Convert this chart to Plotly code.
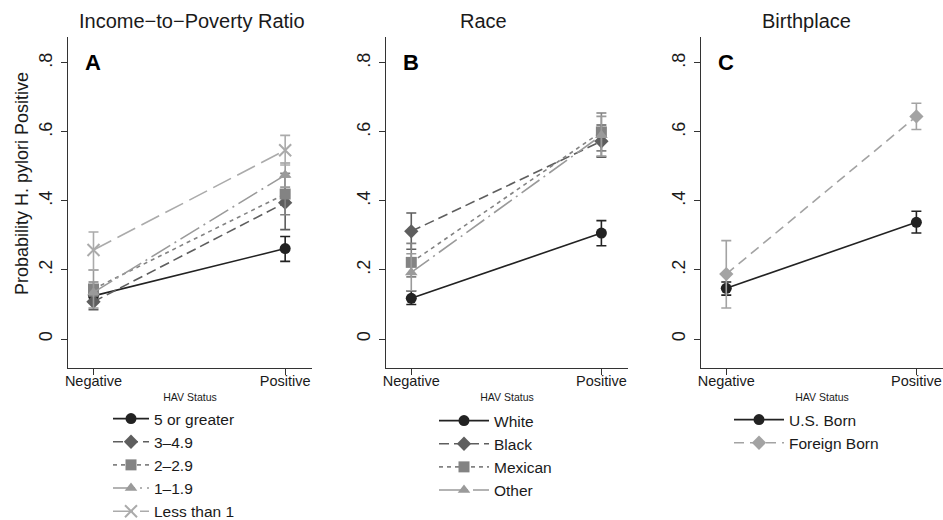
import plotly.graph_objects as go

W, H = 943, 520

x_cats = ["Negative", "Positive"]
x_pos = [0, 1]
y_ticks = [0, 0.2, 0.4, 0.6, 0.8]
y_ticktext = ["0", ".2", ".4", ".6", ".8"]

# Panel A: Income-to-Poverty Ratio
a_names = ["5 or greater", "3\u20134.9", "2\u20132.9", "1\u20131.9", "Less than 1"]
a_vals = [[0.125, 0.262], [0.108, 0.395], [0.145, 0.420], [0.135, 0.475], [0.258, 0.547]]
a_low = [[0.105, 0.225], [0.085, 0.317], [0.125, 0.360], [0.090, 0.440], [0.200, 0.504]]
a_high = [[0.145, 0.297], [0.135, 0.470], [0.165, 0.480], [0.200, 0.510], [0.310, 0.590]]

# Panel B: Race
b_names = ["White", "Black", "Mexican", "Other"]
b_vals = [[0.118, 0.307], [0.312, 0.573], [0.222, 0.600], [0.193, 0.590]]
b_low = [[0.100, 0.270], [0.260, 0.527], [0.180, 0.545], [0.140, 0.530]]
b_high = [[0.139, 0.343], [0.365, 0.620], [0.277, 0.655], [0.247, 0.645]]

# Panel C: Birthplace
c_names = ["U.S. Born", "Foreign Born"]
c_vals = [[0.147, 0.338], [0.188, 0.645]]
c_low = [[0.127, 0.307], [0.090, 0.607]]
c_high = [[0.165, 0.370], [0.285, 0.683]]

titles = ["Income\u2212to\u2212Poverty Ratio", "Race", "Birthplace"]
letters = ["A", "B", "C"]

FONT = "Liberation Sans, Arial, Helvetica, sans-serif"

styles_a = [
    dict(color="#222222", dash="solid", symbol="circle"),
    dict(color="#5e5e5e", dash="10px,5px", symbol="diamond"),
    dict(color="#838383", dash="4px,4px", symbol="square"),
    dict(color="#9a9a9a", dash="22px,5px,2px,5px", symbol="triangle-up"),
    dict(color="#ababab", dash="20px,7px", symbol="x-thin-open"),
]
styles_b = styles_a[:4]
styles_c = [
    dict(color="#222222", dash="solid", symbol="circle"),
    dict(color="#a3a3a3", dash="10px,6px", symbol="diamond"),
]

fig = go.Figure()

def add_panel(names, vals, lows, highs, styles, idx):
    xa = "x" if idx == 1 else f"x{idx}"
    ya = "y" if idx == 1 else f"y{idx}"
    lg = "legend" if idx == 1 else f"legend{idx}"
    for n, v, lo, hi, st in zip(names, vals, lows, highs, styles):
        sym = st["symbol"]
        mk = dict(symbol=sym, size=11, color=st["color"])
        if sym == "x-thin-open":
            mk = dict(symbol=sym, size=12, color=st["color"], line=dict(color=st["color"], width=2))
        fig.add_trace(go.Scatter(
            x=x_pos, y=v, name=n, mode="lines+markers",
            line=dict(color=st["color"], width=1.6, dash=st["dash"]),
            marker=mk,
            error_y=dict(type="data", symmetric=False,
                         array=[h - a for h, a in zip(hi, v)],
                         arrayminus=[a - l for a, l in zip(v, lo)],
                         color=st["color"], thickness=1.6, width=5),
            xaxis=xa, yaxis=ya, legend=lg,
        ))

add_panel(a_names, a_vals, a_low, a_high, styles_a, 1)
add_panel(b_names, b_vals, b_low, b_high, styles_b, 2)
add_panel(c_names, c_vals, c_low, c_high, styles_c, 3)

x_dom_px = [(68, 312), (386, 628), (701, 943)]
y_dom = [1 - 368 / H, 1 - 37 / H]

axis_common = dict(showline=True, linecolor="#333333", linewidth=1, ticks="outside",
                   ticklen=6, tickcolor="#333333", showgrid=False, zeroline=False)

layout = dict(
    width=W, height=H, margin=dict(l=0, r=0, t=0, b=0, autoexpand=False),
    paper_bgcolor="white", plot_bgcolor="white",
    font=dict(family=FONT, color="#1a1a1a"),
    showlegend=True,
)

for i, (x0, x1) in enumerate(x_dom_px, start=1):
    sx = "" if i == 1 else str(i)
    layout[f"xaxis{sx}"] = dict(
        axis_common, domain=[x0 / W, min(x1 / W, 1.0)], range=[-0.133, 1.14],
        tickvals=x_pos, ticktext=x_cats, tickfont=dict(size=14.5, family=FONT),
        ticklabelstandoff=-6,
        title=dict(text="HAV Status", font=dict(size=10.5, family=FONT), standoff=5),
        anchor=f"y{sx}", fixedrange=True,
    )
    layout[f"yaxis{sx}"] = dict(
        axis_common, domain=y_dom, range=[-0.084, 0.875],
        tickvals=y_ticks, ticktext=y_ticktext, tickangle=-90,
        tickfont=dict(size=18, family=FONT), ticklabelstandoff=2,
        anchor=f"x{sx}", fixedrange=True,
    )

leg_common = dict(bgcolor="rgba(0,0,0,0)", borderwidth=0, tracegroupgap=0,
                  font=dict(size=15.5, family=FONT, color="#1a1a1a"),
                  xanchor="left", yanchor="top", orientation="v")
layout["legend"] = dict(leg_common, x=108 / W, y=1 - 402 / H, itemwidth=36)
layout["legend2"] = dict(leg_common, x=434 / W, y=1 - 404 / H, itemwidth=50)
layout["legend3"] = dict(leg_common, x=729 / W, y=1 - 403 / H, itemwidth=50)

fig.update_layout(**layout)

# panel titles
title_x = [192, 484, 806]
for t, tx in zip(titles, title_x):
    fig.add_annotation(text=t, x=tx / W, y=1 - 21 / H, xref="paper", yref="paper",
                       showarrow=False, font=dict(size=20, family=FONT, color="#1a1a1a"),
                       xanchor="center", yanchor="middle")

# panel letters
for i, L in enumerate(letters, start=1):
    sx = "" if i == 1 else str(i)
    fig.add_annotation(text=f"<b>{L}</b>", x=0, y=0.8, xref=f"x{sx}", yref=f"y{sx}",
                       showarrow=False, font=dict(size=22, family=FONT, color="#000000"),
                       xanchor="center", yanchor="middle")

# y-axis title
fig.add_annotation(text="Probability H. pylori Positive", x=22 / W, y=1 - 184 / H,
                   xref="paper", yref="paper", showarrow=False, textangle=-90,
                   font=dict(size=18, family=FONT, color="#1a1a1a"),
                   xanchor="center", yanchor="middle")

fig.write_html("out.html", config={"displayModeBar": False},
               post_script="document.body.style.margin='0';document.body.style.overflow='hidden';")
